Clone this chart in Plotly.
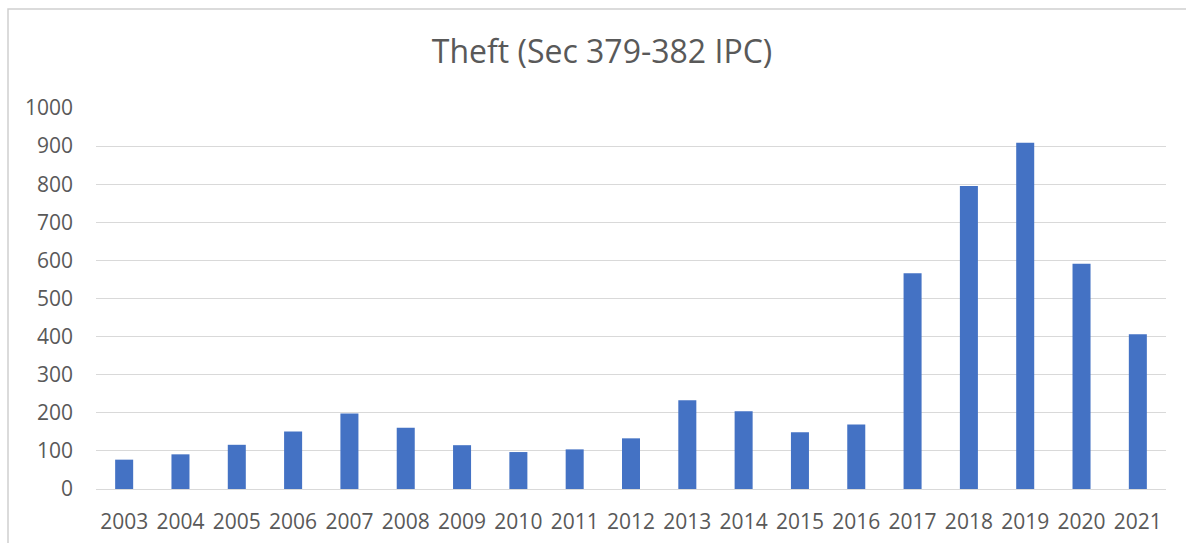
import plotly.graph_objects as go

# Registered theft cases (Sec 379-382 IPC), by year
years = ["2003", "2004", "2005", "2006", "2007", "2008", "2009", "2010", "2011", "2012",
         "2013", "2014", "2015", "2016", "2017", "2018", "2019", "2020", "2021"]
cases = [77, 91, 116, 151, 198, 161, 115, 97, 104, 133,
         233, 204, 149, 169, 566, 795, 909, 591, 406]
y_ticks = [0, 100, 200, 300, 400, 500, 600, 700, 800, 900, 1000]

W, H = 1186, 543
ML, MR, MT, MB = 96, 20, 108, 54
pw, ph = W - ML - MR, H - MT - MB

text_grey = "#595959"
grid_grey = "#d9d9d9"
font_family = "Open Sans"

fig = go.Figure(
    go.Bar(
        x=years,
        y=cases,
        marker=dict(color="#4472C4", line=dict(width=0)),
    )
)

fig.update_layout(
    width=W,
    height=H,
    margin=dict(l=ML, r=MR, t=MT, b=MB, autoexpand=False),
    paper_bgcolor="white",
    plot_bgcolor="white",
    bargap=0.68,
    showlegend=False,
    font=dict(family=font_family, color=text_grey),
    title=dict(
        text="Theft (Sec 379-382 IPC)",
        x=602 / W,
        xanchor="center",
        xref="container",
        y=1 - 52 / H,
        yanchor="middle",
        yref="container",
        font=dict(size=32, color=text_grey, family=font_family),
    ),
    xaxis=dict(
        type="category",
        automargin=False,
        showgrid=False,
        showline=False,
        zeroline=False,
        ticks="",
        tickfont=dict(size=21, color=text_grey),
        ticklabelstandoff=18,
    ),
    yaxis=dict(
        range=[0, 1000],
        tickvals=y_ticks,
        automargin=False,
        showgrid=True,
        gridcolor=grid_grey,
        gridwidth=1.2,
        zeroline=True,
        zerolinecolor=grid_grey,
        zerolinewidth=1.2,
        showline=False,
        ticks="",
        tickfont=dict(size=21, color=text_grey),
        ticklabelstandoff=22,
    ),
)

# Outer chart frame (top and left edges visible)
fig.add_shape(
    type="rect",
    xref="paper",
    yref="paper",
    x0=(8 - ML) / pw,
    x1=(W + 20 - ML) / pw,
    y0=-(MB + 30) / ph,
    y1=1 + (MT - 9) / ph,
    line=dict(color="#cfcfcf", width=1.5),
    fillcolor="rgba(0,0,0,0)",
    layer="below",
)

fig.write_html("out.html")
